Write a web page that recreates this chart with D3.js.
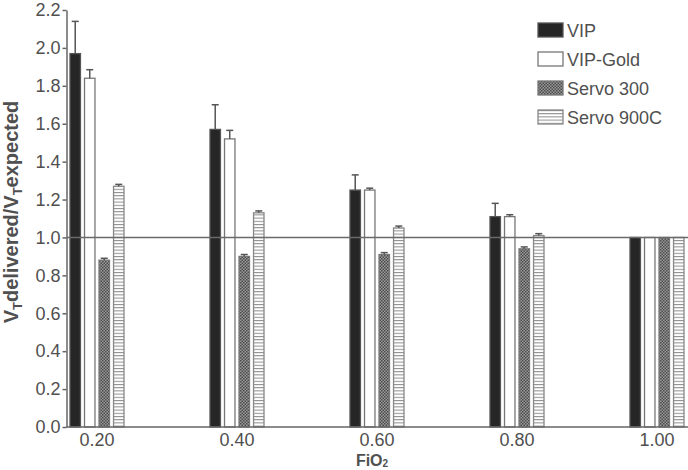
<!DOCTYPE html>
<meta charset="utf-8">
<style>
body { margin: 0; background: #fff; }
text { font-family: "Liberation Sans", Arial, sans-serif; fill: #505050; }
</style>
<svg width="688" height="470"></svg>
<script src="https://d3js.org/d3.v7.min.js"></script>
<script>

// FiO2 levels and devices
var fio2 = ["0.20", "0.40", "0.60", "0.80", "1.00"];
var devices = ["VIP", "VIP-Gold", "Servo 300", "Servo 900C"];

// VT delivered / VT expected (mean) and SD
var vip       = [1.97, 1.57, 1.25, 1.11, 1.00];
var vipErr    = [0.17, 0.13, 0.08, 0.07, 0];
var vipGold   = [1.84, 1.52, 1.25, 1.11, 1.00];
var vipGoldErr = [0.045, 0.045, 0.01, 0.01, 0];
var servo300  = [0.88, 0.90, 0.91, 0.94, 1.00];
var servo300Err = [0.01, 0.01, 0.01, 0.01, 0];
var servo900c = [1.27, 1.13, 1.05, 1.01, 1.00];
var servo900cErr = [0.01, 0.01, 0.01, 0.01, 0];

var yTicks = [0, 0.2, 0.4, 0.6, 0.8, 1.0, 1.2, 1.4, 1.6, 1.8, 2.0, 2.2];

var values = [vip, vipGold, servo300, servo900c];
var errors = [vipErr, vipGoldErr, servo300Err, servo900cErr];

var rows = [];
fio2.forEach(function (f, i) {
  devices.forEach(function (d, j) {
    rows.push({ fio2: f, device: d, value: values[j][i], err: errors[j][i] });
  });
});

var svg = d3.select("svg");
var defs = svg.append("defs");

// dotted cross-hatch for Servo 300
var p1 = defs.append("pattern").attr("id", "dots")
  .attr("width", 3).attr("height", 3).attr("patternUnits", "userSpaceOnUse");
p1.append("rect").attr("width", 3).attr("height", 3).attr("fill", "#9a9a9a");
p1.append("rect").attr("width", 1.5).attr("height", 1.5).attr("fill", "#4a4a4a");
p1.append("rect").attr("x", 1.5).attr("y", 1.5).attr("width", 1.5).attr("height", 1.5).attr("fill", "#4a4a4a");

// horizontal stripes for Servo 900C
var p2 = defs.append("pattern").attr("id", "stripes")
  .attr("width", 4).attr("height", 3.2).attr("patternUnits", "userSpaceOnUse");
p2.append("rect").attr("width", 4).attr("height", 3.2).attr("fill", "#fff");
p2.append("rect").attr("width", 4).attr("height", 1).attr("fill", "#8a8a8a");

var fills = {
  "VIP": "#262626",
  "VIP-Gold": "#ffffff",
  "Servo 300": "url(#dots)",
  "Servo 900C": "url(#stripes)"
};
var strokes = {
  "VIP": "#555",
  "VIP-Gold": "#777",
  "Servo 300": "#777",
  "Servo 900C": "#888"
};

var x0 = d3.scalePoint().domain(fio2).range([97, 657]);
var x1 = d3.scaleBand().domain(devices).range([-27, 27]).paddingInner(0.28);
var y = d3.scaleLinear().domain([0, 2.2]).range([427, 10]);

var axisLeft = 66.5, axisRight = 688;

// bars
svg.append("g").selectAll("rect").data(rows).enter().append("rect")
  .attr("x", function (d) { return x0(d.fio2) + x1(d.device); })
  .attr("y", function (d) { return y(d.value); })
  .attr("width", x1.bandwidth())
  .attr("height", function (d) { return y(0) - y(d.value); })
  .attr("fill", function (d) { return fills[d.device]; })
  .attr("stroke", function (d) { return strokes[d.device]; })
  .attr("stroke-width", 1.3);

// error bars
var eb = svg.append("g").selectAll("g").data(rows.filter(function (d) { return d.err > 0; }))
  .enter().append("g")
  .attr("stroke", "#555").attr("stroke-width", 1.5);
eb.append("line")
  .attr("x1", function (d) { return x0(d.fio2) + x1(d.device) + x1.bandwidth() / 2; })
  .attr("x2", function (d) { return x0(d.fio2) + x1(d.device) + x1.bandwidth() / 2; })
  .attr("y1", function (d) { return y(d.value); })
  .attr("y2", function (d) { return y(d.value + d.err); });
eb.append("line")
  .attr("x1", function (d) { return x0(d.fio2) + x1(d.device) + x1.bandwidth() / 2 - 3.5; })
  .attr("x2", function (d) { return x0(d.fio2) + x1(d.device) + x1.bandwidth() / 2 + 3.5; })
  .attr("y1", function (d) { return y(d.value + d.err); })
  .attr("y2", function (d) { return y(d.value + d.err); });

// reference line at 1.0
svg.append("line")
  .attr("x1", axisLeft).attr("x2", axisRight)
  .attr("y1", y(1)).attr("y2", y(1))
  .attr("stroke", "#6a6a6a").attr("stroke-width", 1.5);

// y axis
var yAxis = svg.append("g")
  .attr("transform", "translate(" + axisLeft + ",0)")
  .call(d3.axisLeft(y).tickValues(yTicks).tickFormat(d3.format(".1f")).tickSize(4).tickSizeOuter(0).tickPadding(2));
yAxis.select(".domain").attr("stroke", "#666").attr("stroke-width", 1.5);
yAxis.selectAll(".tick line").attr("stroke", "#666").attr("stroke-width", 1.5);
yAxis.selectAll("text").attr("font-size", 18).attr("fill", "#555")
  .style("font-family", "'Liberation Sans', Arial, sans-serif");

// x axis
svg.append("line")
  .attr("x1", axisLeft).attr("x2", axisRight)
  .attr("y1", y(0)).attr("y2", y(0))
  .attr("stroke", "#666").attr("stroke-width", 1.5);
svg.append("g").selectAll("text").data(fio2).enter().append("text")
  .attr("x", function (d) { return x0(d); })
  .attr("y", 446)
  .attr("text-anchor", "middle")
  .attr("font-size", 18)
  .attr("fill", "#555")
  .text(function (d) { return d; });

// x axis title (sits at the bottom edge, as in the original)
var xt = svg.append("text")
  .attr("x", 372).attr("y", 466)
  .attr("text-anchor", "middle")
  .attr("font-size", 16).attr("font-weight", "bold").attr("fill", "#444");
xt.append("tspan").text("FiO");
xt.append("tspan").attr("font-size", 10).attr("dy", 1).text("2");

// y axis title
var yt = svg.append("text")
  .attr("transform", "translate(18,212) rotate(-90)")
  .attr("text-anchor", "middle")
  .attr("font-size", 20).attr("font-weight", "bold").attr("fill", "#444");
yt.append("tspan").text("V");
yt.append("tspan").attr("font-size", 13).attr("dy", 4).text("T");
yt.append("tspan").attr("dy", -4).text("delivered/V");
yt.append("tspan").attr("font-size", 13).attr("dy", 4).text("T");
yt.append("tspan").attr("dy", -4).text("expected");

// legend
var legend = svg.append("g").selectAll("g").data(devices).enter().append("g")
  .attr("transform", function (d, i) { return "translate(538," + (23 + i * 29) + ")"; });
legend.append("rect")
  .attr("width", 25).attr("height", 14)
  .attr("fill", function (d) { return fills[d]; })
  .attr("stroke", function (d) { return strokes[d]; })
  .attr("stroke-width", 1.3);
legend.append("text")
  .attr("x", 29).attr("y", 13.5)
  .attr("font-size", 18).attr("fill", "#555")
  .text(function (d) { return d; });

</script>
